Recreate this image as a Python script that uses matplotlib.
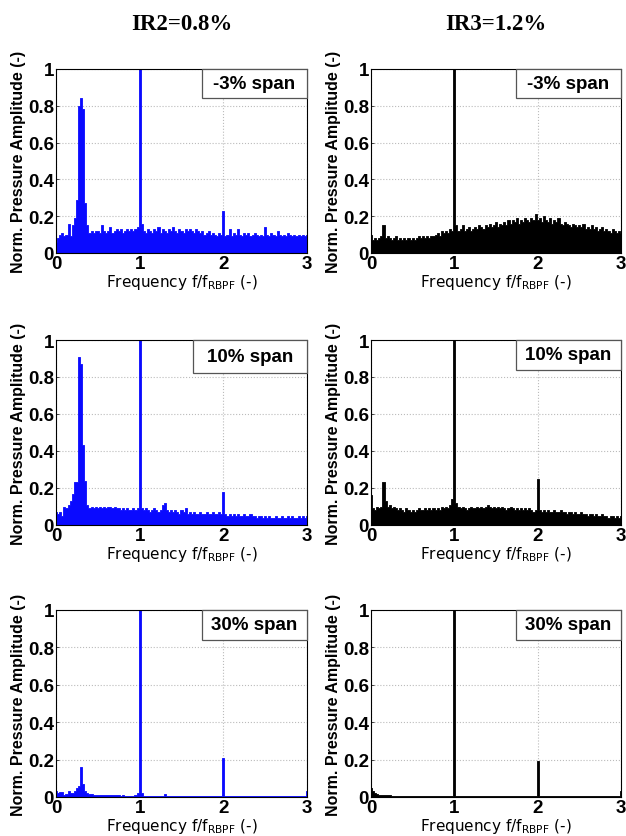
import numpy as np
import matplotlib
matplotlib.use('Agg')
import matplotlib.pyplot as plt
from matplotlib.patches import Rectangle

# normalised pressure spectra, sampled every 0.025 f/f_RBPF from 0 to 3
freq = np.linspace(0, 3, 121)

ir2_m3 = [0.06, 0.08, 0.10, 0.11, 0.09, 0.10, 0.16, 0.09, 0.15, 0.19,
          0.29, 0.80, 0.84, 0.78, 0.27, 0.15, 0.11, 0.12, 0.11, 0.12,
          0.12, 0.11, 0.15, 0.12, 0.11, 0.12, 0.14, 0.11, 0.12, 0.13,
          0.12, 0.13, 0.11, 0.12, 0.13, 0.12, 0.13, 0.12, 0.13, 0.14,
          1.00, 0.16, 0.12, 0.11, 0.13, 0.12, 0.11, 0.13, 0.12, 0.14,
          0.11, 0.13, 0.12, 0.11, 0.13, 0.12, 0.14, 0.12, 0.11, 0.13,
          0.12, 0.11, 0.13, 0.12, 0.13, 0.12, 0.11, 0.13, 0.12, 0.11,
          0.12, 0.10, 0.11, 0.12, 0.10, 0.11, 0.10, 0.09, 0.11, 0.10,
          0.23, 0.09, 0.10, 0.13, 0.09, 0.11, 0.10, 0.13, 0.10, 0.09,
          0.11, 0.10, 0.11, 0.09, 0.10, 0.11, 0.10, 0.09, 0.10, 0.09,
          0.14, 0.10, 0.09, 0.11, 0.10, 0.09, 0.12, 0.10, 0.09, 0.10,
          0.09, 0.11, 0.10, 0.09, 0.10, 0.09, 0.10, 0.09, 0.10, 0.09,
          0.10]

ir3_m3 = [0.10, 0.07, 0.08, 0.07, 0.08, 0.09, 0.15, 0.08, 0.09, 0.08,
          0.07, 0.08, 0.09, 0.07, 0.08, 0.07, 0.08, 0.07, 0.08, 0.07,
          0.08, 0.07, 0.08, 0.09, 0.08, 0.09, 0.08, 0.09, 0.08, 0.09,
          0.09, 0.10, 0.11, 0.09, 0.12, 0.11, 0.12, 0.11, 0.13, 0.12,
          1.00, 0.15, 0.12, 0.13, 0.15, 0.12, 0.13, 0.14, 0.12, 0.13,
          0.14, 0.13, 0.15, 0.14, 0.13, 0.15, 0.14, 0.16, 0.14, 0.15,
          0.17, 0.14, 0.16, 0.15, 0.17, 0.15, 0.18, 0.16, 0.18, 0.17,
          0.19, 0.16, 0.18, 0.17, 0.19, 0.18, 0.17, 0.19, 0.18, 0.21,
          0.18, 0.19, 0.17, 0.20, 0.18, 0.17, 0.19, 0.16, 0.18, 0.17,
          0.19, 0.16, 0.15, 0.17, 0.16, 0.15, 0.14, 0.16, 0.15, 0.14,
          0.15, 0.14, 0.16, 0.13, 0.14, 0.13, 0.15, 0.13, 0.14, 0.12,
          0.13, 0.14, 0.12, 0.13, 0.12, 0.11, 0.13, 0.12, 0.11, 0.12,
          0.11]

ir2_10 = [0.07, 0.06, 0.07, 0.05, 0.10, 0.09, 0.11, 0.13, 0.17, 0.23,
          0.23, 0.91, 0.87, 0.43, 0.24, 0.11, 0.09, 0.10, 0.09, 0.10,
          0.09, 0.10, 0.09, 0.10, 0.09, 0.10, 0.10, 0.09, 0.10, 0.09,
          0.09, 0.08, 0.09, 0.08, 0.09, 0.08, 0.08, 0.09, 0.08, 0.09,
          1.00, 0.09, 0.08, 0.09, 0.08, 0.07, 0.08, 0.09, 0.08, 0.07,
          0.08, 0.11, 0.12, 0.08, 0.07, 0.08, 0.07, 0.08, 0.07, 0.06,
          0.08, 0.07, 0.09, 0.06, 0.07, 0.06, 0.07, 0.06, 0.06, 0.07,
          0.06, 0.06, 0.07, 0.06, 0.06, 0.07, 0.06, 0.06, 0.07, 0.06,
          0.18, 0.06, 0.05, 0.06, 0.05, 0.06, 0.05, 0.06, 0.05, 0.05,
          0.06, 0.05, 0.05, 0.06, 0.05, 0.05, 0.04, 0.05, 0.05, 0.04,
          0.05, 0.04, 0.05, 0.04, 0.04, 0.05, 0.04, 0.04, 0.05, 0.04,
          0.04, 0.05, 0.04, 0.05, 0.04, 0.04, 0.05, 0.04, 0.05, 0.04,
          0.05]

ir3_10 = [0.16, 0.09, 0.08, 0.10, 0.09, 0.10, 0.23, 0.13, 0.10, 0.11,
          0.09, 0.10, 0.09, 0.08, 0.09, 0.08, 0.07, 0.09, 0.08, 0.07,
          0.08, 0.07, 0.08, 0.09, 0.08, 0.08, 0.09, 0.08, 0.09, 0.08,
          0.09, 0.08, 0.09, 0.08, 0.10, 0.09, 0.10, 0.09, 0.11, 0.14,
          1.00, 0.12, 0.10, 0.09, 0.10, 0.09, 0.08, 0.09, 0.10, 0.09,
          0.09, 0.10, 0.09, 0.10, 0.09, 0.10, 0.11, 0.10, 0.09, 0.10,
          0.09, 0.10, 0.09, 0.10, 0.09, 0.08, 0.09, 0.10, 0.09, 0.08,
          0.09, 0.08, 0.09, 0.08, 0.09, 0.08, 0.09, 0.08, 0.07, 0.08,
          0.25, 0.08, 0.07, 0.08, 0.07, 0.08, 0.07, 0.07, 0.08, 0.07,
          0.07, 0.08, 0.07, 0.07, 0.06, 0.07, 0.07, 0.06, 0.07, 0.06,
          0.06, 0.07, 0.06, 0.06, 0.05, 0.06, 0.06, 0.05, 0.06, 0.05,
          0.05, 0.06, 0.05, 0.05, 0.04, 0.05, 0.05, 0.04, 0.05, 0.04,
          0.05]

ir2_30 = [0.03, 0.02, 0.025, 0.025, 0.01, 0.015, 0.03, 0.02, 0.02, 0.03,
          0.05, 0.06, 0.16, 0.07, 0.03, 0.02, 0.015, 0.015, 0.012, 0.012,
          0.012, 0.01, 0.012, 0.01, 0.012, 0.01, 0.01, 0.012, 0.01, 0.01,
          0.01, 0.008, 0.01, 0.008, 0.008, 0.007, 0.008, 0.007, 0.01, 0.02,
          1.00, 0.02, 0.008, 0.007, 0.006, 0.007, 0.006, 0.006, 0.007, 0.006,
          0.006, 0.006, 0.015, 0.006, 0.005, 0.006, 0.005, 0.006, 0.005, 0.005,
          0.006, 0.005, 0.005, 0.006, 0.005, 0.005, 0.006, 0.005, 0.005, 0.005,
          0.005, 0.006, 0.005, 0.005, 0.005, 0.006, 0.005, 0.005, 0.006, 0.008,
          0.21, 0.008, 0.005, 0.005, 0.006, 0.005, 0.005, 0.005, 0.006, 0.005,
          0.005, 0.005, 0.006, 0.005, 0.005, 0.005, 0.005, 0.006, 0.005, 0.005,
          0.005, 0.005, 0.005, 0.006, 0.005, 0.005, 0.005, 0.005, 0.005, 0.006,
          0.005, 0.005, 0.005, 0.005, 0.006, 0.005, 0.005, 0.005, 0.005, 0.006,
          0.03]

ir3_30 = [0.05, 0.03, 0.02, 0.015, 0.012, 0.01, 0.01, 0.01, 0.009, 0.009,
          0.008, 0.008, 0.008, 0.007, 0.008, 0.007, 0.007, 0.008, 0.007, 0.007,
          0.007, 0.007, 0.008, 0.007, 0.007, 0.007, 0.007, 0.007, 0.008, 0.007,
          0.007, 0.007, 0.007, 0.007, 0.007, 0.007, 0.007, 0.007, 0.007, 0.008,
          1.00, 0.008, 0.007, 0.007, 0.007, 0.007, 0.007, 0.007, 0.006, 0.007,
          0.007, 0.006, 0.007, 0.007, 0.006, 0.007, 0.006, 0.007, 0.006, 0.006,
          0.007, 0.006, 0.006, 0.006, 0.007, 0.006, 0.006, 0.006, 0.006, 0.006,
          0.006, 0.006, 0.006, 0.006, 0.006, 0.006, 0.006, 0.006, 0.006, 0.008,
          0.19, 0.008, 0.006, 0.006, 0.006, 0.006, 0.006, 0.006, 0.006, 0.006,
          0.006, 0.006, 0.006, 0.006, 0.006, 0.006, 0.006, 0.006, 0.006, 0.006,
          0.006, 0.006, 0.006, 0.006, 0.006, 0.006, 0.006, 0.006, 0.006, 0.006,
          0.006, 0.006, 0.006, 0.006, 0.006, 0.006, 0.006, 0.006, 0.006, 0.006,
          0.03]

spans = ['-3% span', '10% span', '30% span']
col_titles = ['IR2=0.8%', 'IR3=1.2%']
col_colors = ['#0a0aff', 'black']
spectra = [[ir2_m3, ir3_m3], [ir2_10, ir3_10], [ir2_30, ir3_30]]

W, H = 626, 837
fig = plt.figure(figsize=(W / 100, H / 100), dpi=100)

col_x = [(56, 307), (371, 621)]
row_y = [(70, 254), (341, 526), (611, 798)]

for r in range(3):
    for c in range(2):
        x0, x1 = col_x[c]
        y0, y1 = row_y[r]
        ax = fig.add_axes([x0 / W, 1 - y1 / H, (x1 - x0) / W, (y1 - y0) / H])
        ax.fill_between(freq, spectra[r][c], 0, step='mid', color=col_colors[c],
                        linewidth=0.6, zorder=2)
        ax.set_xlim(0, 3)
        ax.set_ylim(0, 1)
        ax.set_xticks([0, 1, 2, 3])
        ax.set_yticks([0, 0.2, 0.4, 0.6, 0.8, 1])
        ax.set_yticklabels(['0', '0.2', '0.4', '0.6', '0.8', '1'])
        ax.grid(True, color='#bbbbbb', linestyle=':', linewidth=0.8, zorder=1)
        ax.tick_params(direction='in', length=2, width=0.5, pad=1.5)
        for lab in ax.get_xticklabels() + ax.get_yticklabels():
            lab.set_fontfamily('Liberation Sans')
            lab.set_fontweight('bold')
            lab.set_fontsize(13.5)
        for sp in ax.spines.values():
            sp.set_linewidth(0.8)
        ax.set_ylabel('Norm. Pressure Amplitude (-)', family='Liberation Sans',
                      fontweight='bold', fontsize=11.5, labelpad=1)
        ax.set_xlabel('Frequency f/f$_{\\mathregular{RBPF}}$ (-)',
                      family='DejaVu Sans', fontsize=11, labelpad=0)

        # label box sitting in the top-right corner of the axes
        bw, bh = (0.455, 0.178) if (r, c) == (1, 0) else (0.42, 0.16)
        ax.add_patch(Rectangle((1 - bw, 1 - bh), bw, bh, transform=ax.transAxes,
                               facecolor='white', edgecolor='#555555',
                               linewidth=0.9, zorder=5, clip_on=False))
        ax.text(1 - bw / 2, 1 - bh / 2, spans[r], transform=ax.transAxes,
                ha='center', va='center', family='Liberation Sans',
                fontweight='bold', fontsize=13.5, zorder=6)

for c in range(2):
    cx = (col_x[c][0] + col_x[c][1]) / 2 / W
    fig.text(cx, 1 - 24 / H, col_titles[c], ha='center', va='center',
             family='Liberation Serif', fontweight='bold', fontsize=16.5)

fig.savefig('out.png', dpi=100)
